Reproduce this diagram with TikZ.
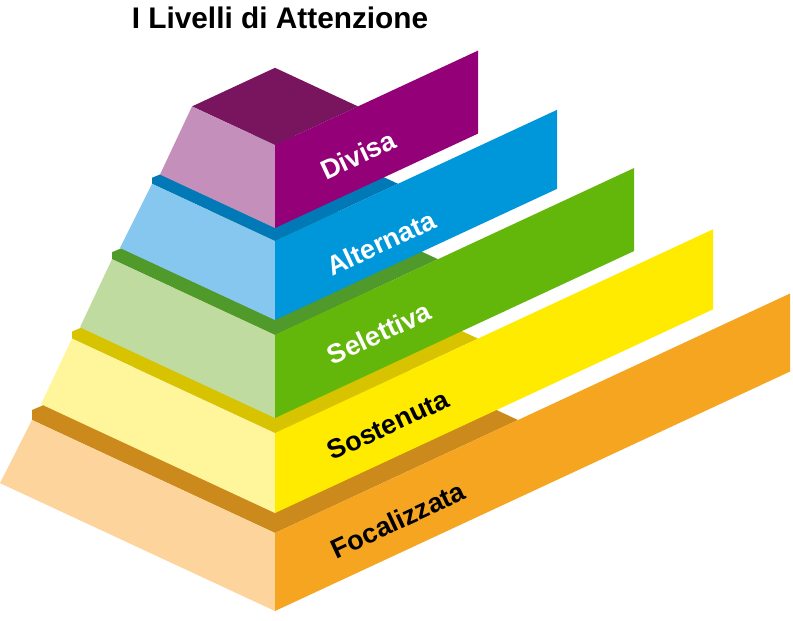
\documentclass[tikz,border=0pt]{standalone}
\usepackage{fontspec}
\setmainfont{Liberation Sans}
\definecolor{divF}{HTML}{930077}
\definecolor{divT}{HTML}{78155E}
\definecolor{divL}{HTML}{C490BB}
\definecolor{altF}{HTML}{0096DA}
\definecolor{altT}{HTML}{0079B6}
\definecolor{altL}{HTML}{86C7F0}
\definecolor{selF}{HTML}{62B70A}
\definecolor{selT}{HTML}{4F9A2A}
\definecolor{selL}{HTML}{BFDB9F}
\definecolor{sosF}{HTML}{FFEB00}
\definecolor{sosT}{HTML}{D7C300}
\definecolor{sosL}{HTML}{FFF59A}
\definecolor{focF}{HTML}{F6A521}
\definecolor{focT}{HTML}{CD8A1C}
\definecolor{focL}{HTML}{FDD49C}
% #1 yT, #2 yB, #3 top depth, #4 bottom depth, #5 right x, #6 offset, #7 top, #8 left, #9 front
\newcommand\pyrlayer[9]{%
  \pgfmathsetmacro\ptlx{275-#3}%
  \pgfmathsetmacro\ptly{#1-0.465*#3}%
  \pgfmathsetmacro\pblx{275-#4}%
  \pgfmathsetmacro\pbly{#2-0.465*#4}%
  \pgfmathsetmacro\prx{275+#3}%
  \pgfmathsetmacro\pbky{#1-0.930*#3}%
  \pgfmathsetmacro\plty{\ptly-#6}%
  \pgfmathsetmacro\pdy{0.465*(#5-275)}%
  \pgfmathsetmacro\prty{#1-\pdy}%
  \pgfmathsetmacro\prby{#2-\pdy}%
  \fill[#7] (\ptlx,\ptly) -- (\ptlx,\plty) -- (275,\pbky) -- (\prx,\ptly) -- (275,#1) -- cycle;
  \fill[#8] (\ptlx,\ptly) -- (275,#1) -- (275,#2) -- (\pblx,\pbly) -- cycle;
  \fill[#9] (275,#1) -- (#5,\prty) -- (#5,\prby) -- (275,#2) -- cycle;
}
\begin{document}
\begin{tikzpicture}[x=1pt,y=-1pt,
  lbl/.style={font=\fontsize{27}{30}\selectfont\bfseries, rotate=24.94, inner sep=0pt}]
\useasboundingbox (0,0) rectangle (793,621);
\fill[white] (0,0) rectangle (793,621);
\pyrlayer{533}{611}{243}{275}{790}{10}{focT}{focL}{focF}
\pyrlayer{433}{513}{203}{234}{713}{7}{sosT}{sosL}{sosF}
\pyrlayer{335}{418}{163}{195}{634}{7}{selT}{selL}{selF}
\pyrlayer{241}{320}{123}{155}{557}{6}{altT}{altL}{altF}
\pyrlayer{145}{228}{83}{115}{478}{0}{divT}{divL}{divF}
\node[lbl, text=white] (ldiv) at (358,155) {Divisa};
\node[lbl, text=white] (lalt) at (381,243) {Alternata};
\node[lbl, text=white] (lsel) at (379,333) {Selettiva};
\node[lbl, text=black] (lsos) at (388,425) {Sostenuta};
\node[lbl, text=black] (lfoc) at (398,520) {Focalizzata};
\node[font=\fontsize{29.8}{32}\selectfont\bfseries, anchor=base, inner sep=0pt] (title) at (280,28.5) {I Livelli di Attenzione};
\end{tikzpicture}
\end{document}
